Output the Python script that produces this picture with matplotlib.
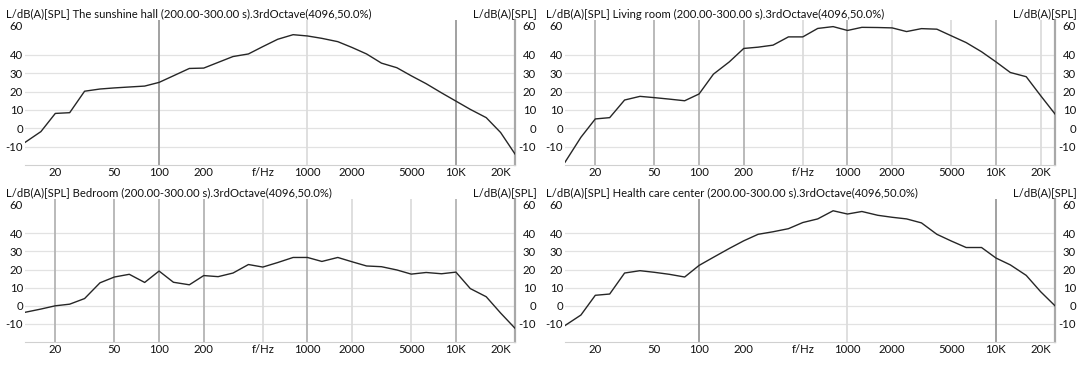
import matplotlib.pyplot as plt

plt.rcParams['font.family'] = ['Lato', 'DejaVu Sans']

# 1/3 octave band centre frequencies (Hz)
freqs = [12.5, 16, 20, 25, 31.5, 40, 50, 63, 80, 100, 125, 160, 200, 250, 315,
         400, 500, 630, 800, 1000, 1250, 1600, 2000, 2500, 3150, 4000, 5000,
         6300, 8000, 10000, 12500, 16000, 20000, 25000]

# A-weighted SPL per band, dB(A)
sunshine_hall = [-7.7, -1.8, 8.1, 8.5, 20.2, 21.4, 22.0, 22.5, 23.0, 25.0, 28.6,
                 32.6, 32.8, 35.9, 39.1, 40.5, 44.5, 48.5, 51.0, 50.3, 49.0, 47.2,
                 44.0, 40.5, 35.5, 33.0, 28.6, 24.3, 19.3, 14.8, 10.3, 5.8, -2.3, -14.0]
living_room = [-18.5, -4.9, 5.1, 5.8, 15.4, 17.4, 16.7, 15.9, 15.0, 18.7, 29.5,
               36.2, 43.5, 44.2, 45.3, 49.8, 49.8, 54.4, 55.4, 53.3, 55.0, 54.9,
               54.7, 52.7, 54.3, 54.0, 50.4, 46.7, 41.7, 36.2, 30.4, 28.1, 17.8, 7.8]
bedroom = [-3.6, -1.8, 0.0, 0.9, 4.0, 12.7, 15.9, 17.4, 12.9, 19.2, 13.0, 11.6,
           16.7, 16.1, 18.1, 22.8, 21.4, 23.9, 26.7, 26.7, 24.5, 26.7, 24.3, 22.0,
           21.6, 19.8, 17.5, 18.4, 17.7, 18.6, 9.5, 5.0, -4.0, -12.4]
health_care = [-10.9, -5.1, 5.8, 6.5, 18.1, 19.4, 18.5, 17.4, 15.9, 22.3, 26.8,
               31.7, 35.9, 39.5, 40.9, 42.6, 46.0, 48.0, 52.5, 50.7, 52.1, 50.0,
               48.9, 48.0, 45.8, 39.5, 35.8, 32.2, 32.2, 26.4, 22.6, 16.8, 7.8, 0.0]

names = ["The sunshine hall", "Living room", "Bedroom", "Health care center"]
series = [sunshine_hall, living_room, bedroom, health_care]

xticks = [20, 50, 100, 200, 500, 1000, 2000, 5000, 10000, 20000]
xticklabels = ["20", "50", "100", "200", "f/Hz", "1000", "2000", "5000", "10K", "20K"]
yticks = [-10, 0, 10, 20, 30, 40, 56]
yticklabels = ["-10", "0", "10", "20", "30", "40", "60"]

# vertical grid lines per panel: (frequency, colour)
dark, mid, light = "#9a9a9a", "#b4b4b4", "#dcdcdc"
vlines = [
    [(100, dark), (1000, light), (10000, dark)],
    [(20, mid), (50, mid), (100, mid), (200, mid), (500, light), (1000, mid),
     (2000, light), (5000, light), (10000, mid), (20000, light)],
    [(20, mid), (50, mid), (100, mid), (200, mid), (500, light), (1000, mid),
     (2000, light), (5000, light), (10000, mid)],
    [(100, dark), (1000, light), (10000, dark)],
]

W, H = 1084, 369
fig = plt.figure(figsize=(W / 100, H / 100), dpi=100)

# axes boxes in pixels: left, top, right, bottom
boxes = [(25, 20, 515, 165), (565, 20, 1055, 165),
         (25, 199, 515, 342), (565, 199, 1055, 342)]

px = 72 / 100  # points per pixel
tick_fs = 8.2
title_fs = 8.1

for i, (name, vals) in enumerate(zip(names, series)):
    l, t, r, b = boxes[i]
    ax = fig.add_axes([l / W, 1 - b / H, (r - l) / W, (b - t) / H])
    ax.set_xscale("log")
    ax.set_xlim(12.5, 25000)
    ax.set_ylim(-20, 59)

    for y in yticks[:-1]:
        ax.axhline(y, color="#e2e2e2", lw=0.9, zorder=0)
    for f, c in vlines[i]:
        ax.axvline(f, color=c, lw=1.3, zorder=1)

    ax.plot(freqs, vals, color="#262626", lw=1.0, zorder=3)

    ax.set_xticks(xticks)
    ax.set_xticklabels(xticklabels)
    ax.xaxis.set_minor_locator(plt.NullLocator())
    ax.set_yticks(yticks)
    ax.set_yticklabels(yticklabels)
    ax.tick_params(axis="x", length=0, pad=2 * px, labelsize=tick_fs, colors="#111")
    ax.tick_params(axis="y", length=0, pad=2 * px, labelsize=tick_fs, colors="#111")

    for s in ["left", "top"]:
        ax.spines[s].set_visible(False)
    ax.spines["bottom"].set_color("#d0d0d0")
    ax.spines["bottom"].set_linewidth(0.8)
    ax.spines["right"].set_color("#a8a8a8")
    ax.spines["right"].set_linewidth(1.6)

    ax2 = ax.twinx()
    ax2.set_ylim(ax.get_ylim())
    ax2.set_yticks(yticks)
    ax2.set_yticklabels(yticklabels, ha="right")
    ax2.tick_params(axis="y", length=0, pad=21 * px, labelsize=tick_fs, colors="#111")
    for s in ax2.spines.values():
        s.set_visible(False)

    ax.annotate("L/dB(A)[SPL] " + name + " (200.00-300.00 s).3rdOctave(4096,50.0%)",
                xy=(0, 1), xycoords="axes fraction",
                xytext=(-19 * px, 6 * px), textcoords="offset points",
                ha="left", va="center", fontsize=title_fs, color="#111")
    ax.annotate("L/dB(A)[SPL]", xy=(1, 1), xycoords="axes fraction",
                xytext=(22 * px, 6 * px), textcoords="offset points",
                ha="right", va="center", fontsize=title_fs, color="#111")

fig.savefig("out.png", dpi=100)
